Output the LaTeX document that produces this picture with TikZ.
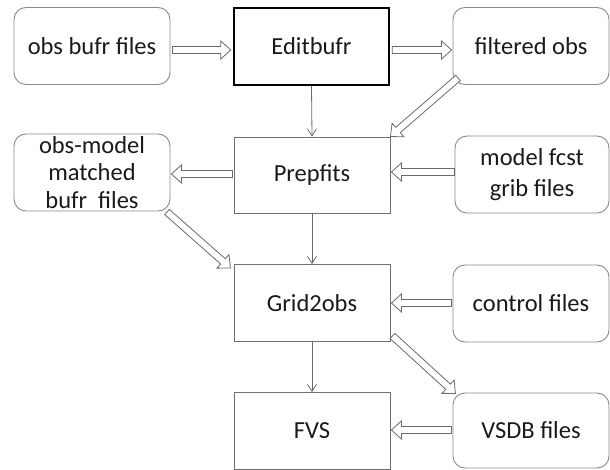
\documentclass[tikz,border=0pt]{standalone}
\usepackage{fontspec}
\setmainfont{Carlito}
\usetikzlibrary{calc,arrows.meta}
\definecolor{rgray}{HTML}{8A8A8A}
\definecolor{bgray}{HTML}{707070}
\definecolor{agray}{HTML}{6A6A6A}
\definecolor{txt}{HTML}{1A1A1A}
\tikzset{
  box/.style={draw=bgray, line width=0.9pt, minimum width=156pt, minimum height=77pt,
    inner sep=0pt, text=txt, align=center, font=\fontsize{24.5}{27.5}\selectfont},
  rbox/.style={box, draw=rgray, rounded corners=12pt},
  mainbox/.style={box, draw=black, line width=2.4pt},
  thinarr/.style={draw=agray, line width=0.8pt, -{Straight Barb[length=7pt,width=9pt]}},
  blockarr/.style={draw=agray, fill=white, line width=0.8pt, line join=miter},
}
\newcommand\blockarrow[2]{%
  \path let \p1=(#1), \p2=(#2), \n1={atan2(\y2-\y1,\x2-\x1)}, \n2={veclen(\x2-\x1,\y2-\y1)} in
    \pgfextra{\pgfmathsetmacro\baL{\n2}\xdef\baL{\baL}\xdef\baX{\x1}\xdef\baY{\y1}\xdef\baA{\n1}};
  \draw[blockarr, shift={(\baX,\baY)}, rotate=\baA]
    (0pt,-3.5pt) -- (\baL pt-10pt,-3.5pt) -- (\baL pt-10pt,-9pt) -- (\baL pt,0pt)
    -- (\baL pt-10pt,9pt) -- (\baL pt-10pt,3.5pt) -- (0pt,3.5pt) -- cycle;
}
\begin{document}
\begin{tikzpicture}[x=1pt,y=-1pt]
\useasboundingbox[fill=white] (0,0) rectangle (610,470);
% nodes
\node[rbox] (ob) at (92,46) {obs bufr files};
\node[mainbox, minimum width=155pt] (eb) at (311.5,46.5) {Editbufr};
\node[rbox] (fo) at (531,46) {filtered obs};
\node[rbox, minimum height=77pt] (om) at (92,172.5) {obs-model\\matched\\bufr~ files};
\node[box, minimum height=76pt] (pf) at (312,175) {Prepfits};
\node[rbox, minimum width=154pt, font=\fontsize{24.5}{31}\selectfont] (mf) at (532,174.5) {model fcst\\grib files};
\node[box] (g2) at (312,303) {Grid2obs};
\node[rbox] (cf) at (531,303.5) {control files};
\node[box] (fvs) at (312,431) {FVS};
\node[rbox, minimum height=75pt] (vs) at (531,430.5) {VSDB files};
% thin arrows
\draw[thinarr] (eb.south) -- (pf.north);
\draw[thinarr] (pf.south) -- (g2.north);
\draw[thinarr] (g2.south) -- (fvs.north);
% block arrow end points
\coordinate (a1s) at ($(ob.east)+(2,4)$);
\coordinate (a1e) at ($(eb.west)+(-2,3.5)$);
\coordinate (a2s) at ($(eb.east)+(2,3.5)$);
\coordinate (a2e) at ($(fo.west)+(-1,4)$);
\coordinate (a3s) at (458,78);
\coordinate (a3e) at (pf.north east);
\coordinate (a4s) at ($(pf.west)+(-1,-1)$);
\coordinate (a4e) at ($(om.east)+(1,1.5)$);
\coordinate (a5s) at ($(mf.west)+(0,-2.5)$);
\coordinate (a5e) at ($(pf.east)+(1,-3)$);
\coordinate (a6s) at (167,212);
\coordinate (a6e) at ($(g2.north west)+(-3,4)$);
\coordinate (a7s) at ($(cf.west)+(-1,-0.5)$);
\coordinate (a7e) at ($(g2.east)+(1,0)$);
\coordinate (a8s) at ($(g2.south east)+(2,-6)$);
\coordinate (a8e) at ($(vs.north west)+(3,1)$);
\coordinate (a9s) at ($(vs.west)+(-1,-0.5)$);
\coordinate (a9e) at ($(fvs.east)+(1,-1)$);
\blockarrow{a1s}{a1e}
\blockarrow{a2s}{a2e}
\blockarrow{a3s}{a3e}
\blockarrow{a4s}{a4e}
\blockarrow{a5s}{a5e}
\blockarrow{a6s}{a6e}
\blockarrow{a7s}{a7e}
\blockarrow{a8s}{a8e}
\blockarrow{a9s}{a9e}
\end{tikzpicture}
\end{document}
